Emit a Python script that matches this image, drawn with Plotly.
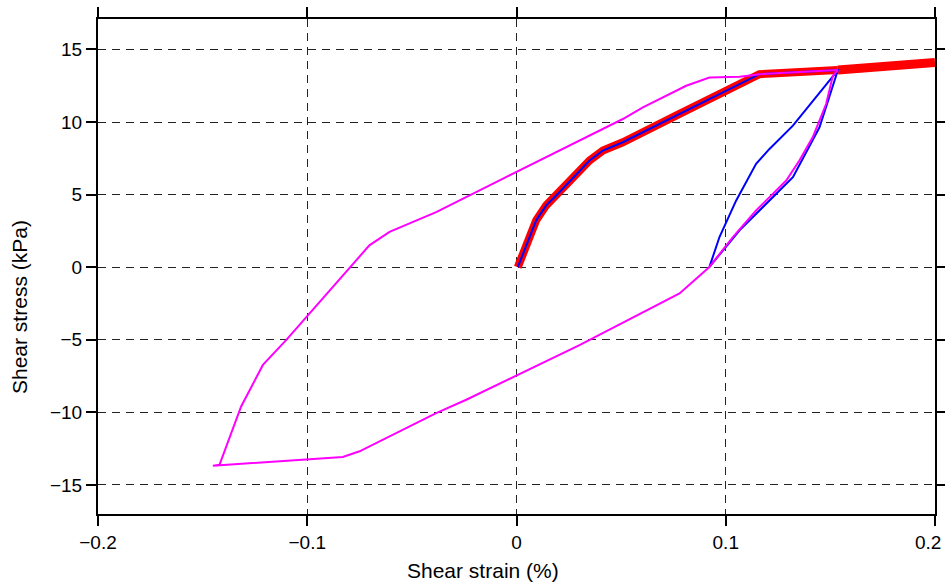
import plotly.graph_objects as go

# Backbone (monotonic loading) curve
backbone_x = [0.0006, 0.0094, 0.0142, 0.0205, 0.0349, 0.0413, 0.0508, 0.0779, 0.1002, 0.1161, 0.1536]
backbone_y = [0.0, 3.23, 4.26, 5.17, 7.35, 8.04, 8.61, 10.56, 12.16, 13.30, 13.58]
tail_x = [0.1536, 0.2]
tail_y = [13.58, 14.10]

# Small unload/reload loop (blue)
loop_x = [0.1448, 0.1321, 0.1225, 0.1066, 0.0922, 0.0970, 0.1050, 0.1145, 0.1209, 0.1321, 0.1536]
loop_y = [9.64, 6.20, 4.83, 2.54, 0.02, 2.08, 4.60, 7.12, 8.15, 9.75, 13.58]

# Large cycle (magenta)
cycle_x = [0.1536, 0.1512, 0.148, 0.1416, 0.1352, 0.1289, 0.1145, 0.1034, 0.0922, 0.0779,
           0.0301, -0.0001, -0.024, -0.0384, -0.0655, -0.075, -0.083, -0.1419, -0.1451, -0.1419,
           -0.1316, -0.1212, -0.11, -0.0703, -0.0607, -0.0384, -0.0081, 0.0205, 0.0508, 0.0604,
           0.0811, 0.0922, 0.1066, 0.1145, 0.1161, 0.1536]
cycle_y = [13.58, 13.2, 11.26, 8.97, 7.35, 5.97, 3.91, 2.08, 0.02, -1.81,
           -5.36, -7.49, -9.13, -10.05, -12.0, -12.68, -13.07, -13.6, -13.67, -13.6,
           -9.59, -6.73, -5.01, 1.51, 2.43, 3.80, 5.98, 8.04, 10.21, 11.01,
           12.5, 13.07, 13.12, 13.26, 13.30, 13.58]

x_ticks = [-0.2, -0.1, 0, 0.1, 0.2]
x_ticktext = ["\u22120.2", "\u22120.1", "0", "0.1", ""]
x_last_label = "0.2"
y_ticks = [-15, -10, -5, 0, 5, 10, 15]
x_title = "Shear strain (%)"
y_title = "Shear stress (kPa)"

FONT = "Liberation Sans, Arial, sans-serif"
W, H = 945, 584
L, R, T, B = 98, 10, 19, 70

fig = go.Figure()
fig.add_trace(go.Scatter(x=backbone_x, y=backbone_y, mode="lines",
                         line=dict(color="#FF0000", width=8), showlegend=False))
fig.add_trace(go.Scatter(x=tail_x, y=tail_y, mode="lines",
                         line=dict(color="#FF0000", width=9), showlegend=False))
fig.add_trace(go.Scatter(x=backbone_x + loop_x, y=backbone_y + loop_y, mode="lines",
                         line=dict(color="#0000FF", width=2), showlegend=False))
fig.add_trace(go.Scatter(x=cycle_x, y=cycle_y, mode="lines",
                         line=dict(color="#FF00FF", width=2), showlegend=False))

axis_common = dict(
    showline=True, linecolor="black", linewidth=2, mirror="ticks",
    ticks="outside", ticklen=10, tickwidth=2, tickcolor="black",
    showgrid=True, gridcolor="#222222", gridwidth=1, griddash="8px,6px",
    zeroline=False, automargin=False, ticklabeloverflow="allow",
    tickfont=dict(family=FONT, size=19, color="black"),
)

fig.update_xaxes(range=[-0.2, 0.2], tickvals=x_ticks, ticktext=x_ticktext, **axis_common)
fig.update_yaxes(range=[-17.0, 17.1], tickvals=y_ticks, **axis_common)

pw = W - L - R
ph = H - T - B
# last x tick label, kept inside the page edge
fig.add_annotation(text=x_last_label, xref="paper", yref="paper",
                   x=(943 - L) / pw, y=-(542 - (H - B)) / ph,
                   xanchor="right", yanchor="middle", showarrow=False,
                   font=dict(family=FONT, size=19, color="black"))
# axis titles (placed as in the reference, slightly off-centre)
fig.add_annotation(text=x_title, xref="paper", yref="paper",
                   x=(483 - L) / pw, y=-(570 - (H - B)) / ph,
                   xanchor="center", yanchor="middle", showarrow=False,
                   font=dict(family=FONT, size=21, color="black"))
fig.add_annotation(text=y_title, xref="paper", yref="paper",
                   x=-(L - 19) / pw, y=((H - B) - 307) / ph,
                   xanchor="center", yanchor="middle", showarrow=False, textangle=-90,
                   font=dict(family=FONT, size=21, color="black"))

fig.update_layout(
    width=W, height=H,
    margin=dict(l=L, r=R, t=T, b=B),
    paper_bgcolor="white", plot_bgcolor="white",
)

fig.write_html(
    "out.html",
    config={"displayModeBar": False},
    post_script="document.body.style.margin='0';document.body.style.overflow='hidden';",
)
